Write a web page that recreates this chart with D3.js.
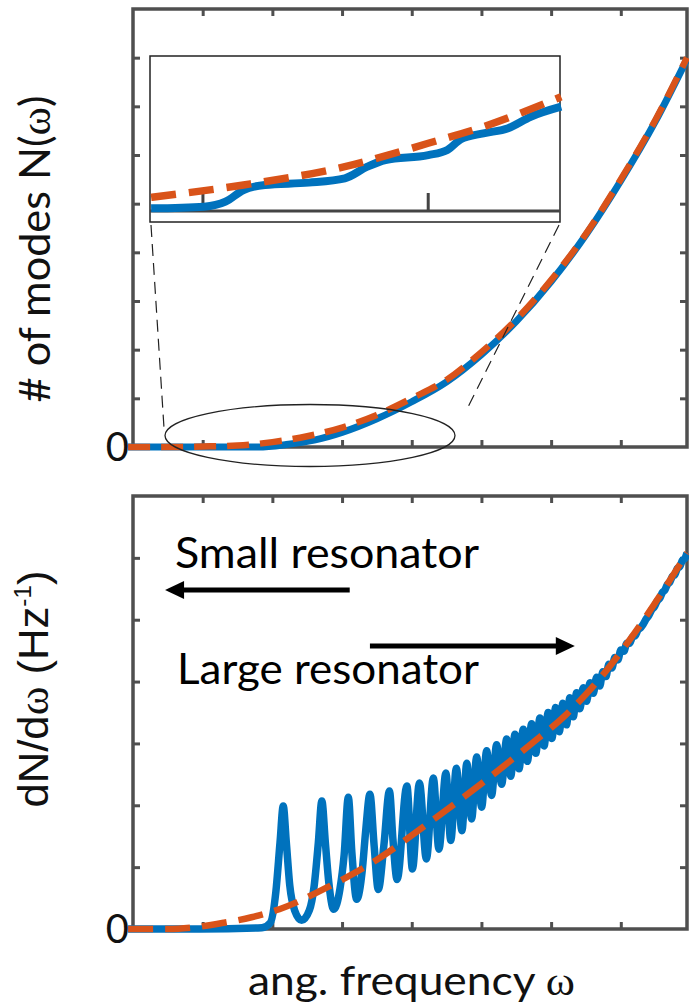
<!DOCTYPE html>
<html><head><meta charset="utf-8">
<script src="https://cdn.jsdelivr.net/npm/d3@7"></script>
<style>html,body{margin:0;padding:0;background:#fff;}svg{display:block;}</style>
</head><body><svg id="c" width="689" height="1005"></svg>
<script>
// ---------- data ----------
const xTicks = [1, 2, 3, 4, 5, 6, 7];
const nTicks = [1, 2, 3, 4, 5, 6, 7, 8];
const dTicks = [1, 2, 3, 4, 5, 6];
const insetTicks = [2, 4];

// top panel: cumulative number of modes N(omega)
const nBlue = [[-0.07,0],[1,0],[1.8,0],[2.2,0.05],[2.6,0.14],[3.0,0.3],[3.5,0.58],[4,0.93],[4.5,1.34],[5,1.9],[5.5,2.58],[6,3.4],[6.5,4.36],[7,5.47],[7.5,6.7],[7.95,7.97]];
const nOrange = [[-0.07,0],[0.5,0],[1,0.01],[1.5,0.03],[2,0.1],[2.5,0.22],[3,0.4],[3.5,0.66],[4,1.0],[4.5,1.38],[5,1.95],[5.5,2.62],[6,3.43],[6.5,4.38],[7,5.5],[7.5,6.73],[7.95,8.0]];

// inset (zoom of the low-frequency part)
const insetBlue = [[1.54,0.17],[2.01,0.28],[2.20,0.60],[2.36,1.35],[2.55,1.68],[2.94,1.83],[3.26,2.11],[3.46,2.86],[3.62,3.29],[4.00,3.61],[4.17,3.94],[4.29,4.63],[4.49,5.01],[4.71,5.34],[4.91,6.08],[5.18,6.73]];
const insetOrange = [[1.54,0.88],[2.36,1.68],[3.26,2.86],[4.00,4.37],[4.49,5.44],[5.18,7.37]];

// bottom panel: density of modes dN/domega
const dosBlue = [[-0.07,0],[0.96,0],[1.85,0.02],[1.97,0.1],[2.05,0.6],[2.11,1.4],[2.156,1.99],[2.20,1.4],[2.25,0.7],[2.32,0.3],[2.42,0.14],
 [2.53,0.3],[2.60,0.7],[2.66,1.4],[2.71,2.07],[2.76,1.4],[2.81,0.75],[2.88,0.32],
 [2.97,0.65],[3.03,1.2],[3.09,2.13],[3.14,1.25],[3.21,0.48],
 [3.29,0.95],[3.34,1.6],[3.40,2.18],[3.46,1.35],[3.52,0.64],
 [3.60,1.35],[3.68,2.23],[3.73,1.45],[3.79,0.8],
 [3.93,2.31],[4.01,0.97],[4.11,2.36],[4.21,1.13],[4.31,2.44],[4.39,1.29],[4.49,2.52],[4.56,1.43],[4.64,2.60],[4.72,1.59],[4.79,2.68],
 [4.859,1.78],[4.932,2.78],[5.003,1.97],[5.075,2.88],[5.146,2.16],[5.218,2.98],[5.290,2.34],[5.362,3.07],[5.421,2.47],[5.481,3.15],
 [5.540,2.59],[5.600,3.23],[5.660,2.71],[5.720,3.32],[5.780,2.84],[5.839,3.41],[5.899,2.96],[5.958,3.50],[6.011,3.08],[6.065,3.58],
 [6.117,3.19],[6.169,3.65],[6.220,3.30],[6.270,3.74],[6.318,3.43],[6.366,3.82],[6.413,3.56],[6.460,3.90],[6.509,3.68],[6.557,3.98],
 [6.605,3.81],[6.653,4.07],[6.698,3.93],[6.743,4.16],[6.786,4.08],[6.829,4.28],[6.872,4.22],[6.915,4.39],[6.958,4.35],[7.001,4.51],
 [7.044,4.49],[7.087,4.62],[7.127,4.62],[7.166,4.72],[7.206,4.74],[7.245,4.83],[7.285,4.87],[7.324,4.93],[7.364,5.01],[7.403,5.07],
 [7.443,5.16],[7.482,5.21],[7.521,5.30],[7.561,5.35],[7.597,5.44],[7.633,5.48],[7.669,5.57],[7.704,5.61],[7.740,5.70],[7.776,5.73],
 [7.812,5.83],[7.848,5.86],[7.884,5.96],[7.920,5.99],[7.95,6.08]];
const dosOrange = [[-0.07,0],[0.5,0],[0.9,0.03],[1.3,0.1],[1.7,0.19],[2.1,0.32],[2.8,0.68],[3.5,1.12],[4.25,1.72],[5.0,2.35],[5.7,2.98],[6.2,3.45],[6.7,4.05],[7.3,4.95],[7.95,6.08]];

// annotation anchors in data units (bottom panel)
const smallArrow = {from: 3.11, to: 0.46, level: 5.48};
const largeArrow = {from: 3.40, to: 6.34, level: 4.575};

// ---------- drawing ----------
const svg = d3.select("#c");
const blue = "#0072BD", orange = "#D95319", frameCol = "#4f4f4f";
const sansC = "Lato, 'Open Sans', sans-serif";

const x = d3.scaleLinear().domain([0, 7.95]).range([133, 687]);
const yN = d3.scaleLinear().domain([0, 9]).range([447, 9]);
const yD = d3.scaleLinear().domain([0, 7]).range([929, 496]);

function frame(yScale, ticks) {
  const [y0, y1] = yScale.range();
  const g = svg.append("g");
  const ax = [
    [d3.axisBottom(x).tickValues(xTicks), `translate(0,${y0})`],
    [d3.axisTop(x).tickValues(xTicks), `translate(0,${y1})`],
    [d3.axisLeft(yScale).tickValues(ticks), `translate(${x.range()[0]},0)`],
    [d3.axisRight(yScale).tickValues(ticks), `translate(${x.range()[1]},0)`]
  ];
  ax.forEach(([a, t]) => {
    const gg = g.append("g").attr("transform", t)
      .call(a.tickSizeInner(-7).tickSizeOuter(0).tickFormat(""));
    gg.select(".domain").remove();
    gg.selectAll(".tick line").attr("stroke", frameCol).attr("stroke-width", 3);
  });
  g.append("rect").attr("x", x.range()[0]).attr("y", y1)
    .attr("width", x.range()[1] - x.range()[0]).attr("height", y0 - y1)
    .attr("fill", "none").attr("stroke", frameCol).attr("stroke-width", 3.5);
}
frame(yN, nTicks);
frame(yD, dTicks);

// zero labels
[yN, yD].forEach(s => {
  svg.append("text").attr("x", 129).attr("y", s(0) + 14).attr("text-anchor", "end")
    .attr("font-family", sansC).attr("font-size", 40).attr("fill", "#111").text("0");
});

// curves top panel
const lineN = d3.line().x(d => x(d[0])).y(d => yN(d[1])).curve(d3.curveMonotoneX);
svg.append("path").attr("d", lineN(nBlue)).attr("fill", "none").attr("stroke", blue).attr("stroke-width", 7);
svg.append("path").attr("d", lineN(nOrange)).attr("fill", "none").attr("stroke", orange).attr("stroke-width", 6.5)
  .attr("stroke-dasharray", "22,11");

// ellipse + connectors
svg.append("ellipse").attr("cx", 310).attr("cy", 435.5).attr("rx", 145).attr("ry", 31)
  .attr("fill", "none").attr("stroke", "#222").attr("stroke-width", 1.3);
svg.append("line").attr("x1", 151).attr("y1", 225).attr("x2", 164).attr("y2", 428)
  .attr("stroke", "#222").attr("stroke-width", 1.2).attr("stroke-dasharray", "12,7");
svg.append("line").attr("x1", 559).attr("y1", 225).attr("x2", 466).attr("y2", 411)
  .attr("stroke", "#222").attr("stroke-width", 1.2).attr("stroke-dasharray", "12,7");

// inset
const xi = d3.scaleLinear().domain([1.53, 5.17]).range([150, 560]);
const yi = d3.scaleLinear().domain([0, 10]).range([211, 56]);
const gi = svg.append("g");
gi.append("rect").attr("x", 150).attr("y", 56).attr("width", 410).attr("height", 166)
  .attr("fill", "#fff").attr("stroke", "#222").attr("stroke-width", 1.5);
gi.append("line").attr("x1", 150).attr("x2", 560).attr("y1", yi(0)).attr("y2", yi(0))
  .attr("stroke", "#444").attr("stroke-width", 3);
gi.selectAll("line.t").data(insetTicks).join("line").attr("class", "t")
  .attr("x1", d => xi(d)).attr("x2", d => xi(d)).attr("y1", yi(0)).attr("y2", yi(0) - 18)
  .attr("stroke", "#444").attr("stroke-width", 3);
const lineI = d3.line().x(d => xi(d[0])).y(d => yi(d[1])).curve(d3.curveMonotoneX);
gi.append("path").attr("d", lineI(insetBlue)).attr("fill", "none").attr("stroke", blue).attr("stroke-width", 8);
gi.append("path").attr("d", lineI(insetOrange)).attr("fill", "none").attr("stroke", orange).attr("stroke-width", 7.5)
  .attr("stroke-dasharray", "25,13");

// bottom panel curves
const lineD = d3.line().x(d => x(d[0])).y(d => yD(d[1])).curve(d3.curveMonotoneX);
svg.append("path").attr("d", lineD(dosBlue)).attr("fill", "none").attr("stroke", blue).attr("stroke-width", 7.5)
  .attr("stroke-linejoin", "round");
svg.append("path").attr("d", lineD(dosOrange)).attr("fill", "none").attr("stroke", orange).attr("stroke-width", 6.5)
  .attr("stroke-dasharray", "25,12");

// annotations
function arrow(a) {
  const y = yD(a.level), x1 = x(a.from), x2 = x(a.to);
  const dir = Math.sign(x2 - x1), head = 19, hw = 9;
  svg.append("line").attr("x1", x1).attr("x2", x2 - dir * head + dir).attr("y1", y).attr("y2", y)
    .attr("stroke", "#000").attr("stroke-width", 5);
  svg.append("path").attr("d", `M${x2},${y}L${x2 - dir * head},${y - hw}L${x2 - dir * head},${y + hw}Z`).attr("fill", "#000");
}
arrow(smallArrow);
arrow(largeArrow);
svg.append("text").attr("x", 175).attr("y", 568).attr("font-family", sansC).attr("font-size", 43)
  .attr("textLength", 304).attr("lengthAdjust", "spacingAndGlyphs").attr("fill", "#000").text("Small resonator");
svg.append("text").attr("x", 177).attr("y", 684).attr("font-family", sansC).attr("font-size", 43)
  .attr("textLength", 302).attr("lengthAdjust", "spacingAndGlyphs").attr("fill", "#000").text("Large resonator");

// axis labels
const t1 = svg.append("text").attr("transform", "translate(50,249) rotate(-90)").attr("text-anchor", "middle")
  .attr("font-family", sansC).attr("font-size", 42).attr("fill", "#111")
  .attr("textLength", 307).attr("lengthAdjust", "spacingAndGlyphs");
t1.append("tspan").text("# of modes N(");
t1.append("tspan").attr("font-family", "'Liberation Serif', serif").text("ω");
t1.append("tspan").text(")");

const t2 = svg.append("text").attr("transform", "translate(48,689) rotate(-90)").attr("text-anchor", "middle")
  .attr("font-family", "'Liberation Sans', Arial, sans-serif").attr("font-size", 43).attr("fill", "#111")
  .attr("textLength", 237).attr("lengthAdjust", "spacingAndGlyphs");
t2.append("tspan").text("dN/d");
t2.append("tspan").attr("font-family", "'Liberation Serif', serif").text("ω");
t2.append("tspan").text(" (Hz");
t2.append("tspan").attr("font-size", 24).attr("dy", -17).text("-1");
t2.append("tspan").attr("dy", 17).text(")");

const t3 = svg.append("text").attr("x", 248).attr("y", 995)
  .attr("font-family", sansC).attr("font-size", 40).attr("fill", "#111")
  .attr("textLength", 327).attr("lengthAdjust", "spacingAndGlyphs");
t3.append("tspan").text("ang. frequency ");
t3.append("tspan").attr("font-family", "'Liberation Serif', serif").text("ω");
</script></body></html>
